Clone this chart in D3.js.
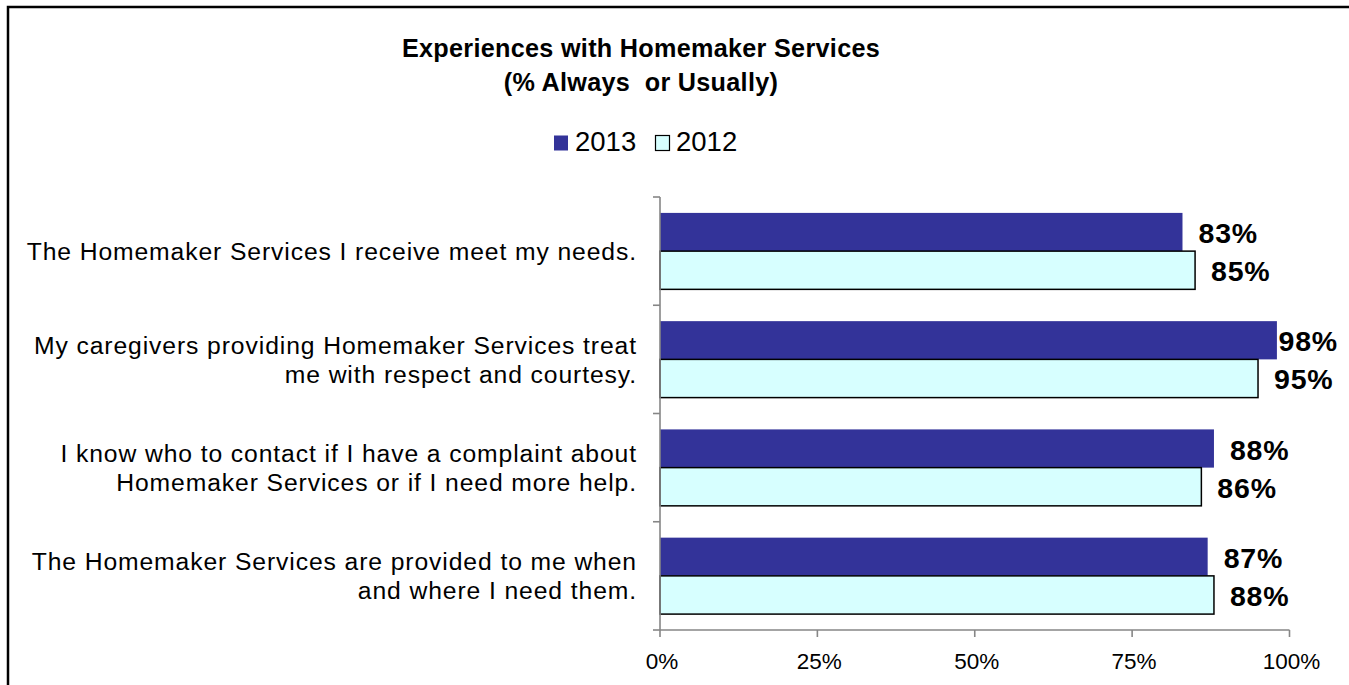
<!DOCTYPE html>
<html>
<head>
<meta charset="utf-8">
<script src="https://cdn.jsdelivr.net/npm/d3@7"></script>
<style>
  html, body { margin: 0; padding: 0; background: #fff; }
  svg { display: block; font-family: "Liberation Sans", Arial, sans-serif; }
</style>
</head>
<body>
<svg id="chart" width="1349" height="685"></svg>
<script>
// Survey statements (each line of a wrapped label is its own string)
const categories = [
  ["The Homemaker Services I receive meet my needs."],
  ["My caregivers providing Homemaker Services treat", "me with respect and courtesy."],
  ["I know who to contact if I have a complaint about", "Homemaker Services or if I need more help."],
  ["The Homemaker Services are provided to me when", "and where I need them."]
];
const seriesNames = ["2013", "2012"];
const values2013 = [83, 98, 88, 87];
const values2012 = [85, 95, 86, 88];
const tickValues = [0, 25, 50, 75, 100];
const titleLines = ["Experiences with Homemaker Services", "(% Always  or Usually)"];

const colors = { "2013": "#333399", "2012": "#d7ffff" };

const svg = d3.select("#chart");
const W = 1349, H = 685;

// outer frame
svg.append("rect")
  .attr("x", 8).attr("y", 7)
  .attr("width", W + 20).attr("height", H + 20)
  .attr("fill", "#fff").attr("stroke", "#000").attr("stroke-width", 2.5);

// plot geometry
const plot = { left: 660, right: 1289.5, top: 197, bottom: 630 };

const x = d3.scaleLinear().domain([0, 100]).range([plot.left, plot.right]);
const y = d3.scaleBand().domain(d3.range(categories.length)).range([plot.top, plot.bottom]).padding(0);
const ySeries = d3.scaleBand().domain(seriesNames).range([0, y.bandwidth()])
  .paddingInner(0).paddingOuter(0.416);

const rows = categories.map((c, i) => ({
  i, lines: c,
  vals: [{ s: "2013", v: values2013[i] }, { s: "2012", v: values2012[i] }]
}));

// title
const title = svg.append("text")
  .attr("text-anchor", "middle")
  .attr("font-weight", "bold").attr("font-size", 25.2)
  .attr("letter-spacing", 0.3)
  .style("white-space", "pre");
titleLines.forEach((t, k) => {
  title.append("tspan").attr("x", 641).attr("y", 57 + k * 34).text(t);
});

// legend
const legendItems = [
  { s: "2013", sx: 554, tx: 575 },
  { s: "2012", sx: 655.5, tx: 676 }
];
const lg = svg.append("g");
legendItems.forEach(d => {
  lg.append("rect")
    .attr("x", d.sx).attr("y", 135.5).attr("width", 14).attr("height", 15)
    .attr("fill", colors[d.s])
    .attr("stroke", d.s === "2012" ? "#000" : "none").attr("stroke-width", 1.2);
  lg.append("text").attr("x", d.tx).attr("y", 151)
    .attr("font-size", 27.5).attr("fill", "#000").text(d.s);
});

// bars
const groups = svg.append("g").selectAll("g").data(rows).join("g")
  .attr("transform", d => `translate(0,${y(d.i)})`);

groups.selectAll("rect").data(d => d.vals).join("rect")
  .attr("x", x(0))
  .attr("y", d => ySeries(d.s))
  .attr("width", d => x(d.v) - x(0))
  .attr("height", ySeries.bandwidth())
  .attr("fill", d => colors[d.s])
  .attr("stroke", d => d.s === "2012" ? "#000" : "none")
  .attr("stroke-width", 1.5);

// value labels, kept inside the frame
const maxRight = 1338;
groups.selectAll("text.val").data(d => d.vals).join("text")
  .attr("class", "val")
  .attr("font-weight", "bold").attr("font-size", 28.5).attr("letter-spacing", 0.8)
  .attr("y", d => ySeries(d.s) + ySeries.bandwidth() / 2 + 11)
  .text(d => d.v + "%")
  .each(function(d) {
    const w = this.getComputedTextLength();
    let px = x(d.v) + 16;
    if (px + w > maxRight) px = maxRight - w;
    d3.select(this).attr("x", px);
  });

// category labels
const lineGap = 29;
svg.append("g").selectAll("text").data(rows).join("text")
  .attr("text-anchor", "end")
  .attr("font-size", 24.7).attr("letter-spacing", 0.9)
  .attr("fill", "#000")
  .each(function(d) {
    const cy = y(d.i) + y.bandwidth() / 2;
    const first = cy + 8.8 - (d.lines.length - 1) * lineGap / 2;
    d3.select(this).selectAll("tspan").data(d.lines).join("tspan")
      .attr("x", 637).attr("y", (t, k) => first + k * lineGap)
      .text(t => t);
  });

// axes
const axisColor = "#868686";
const yBounds = d3.range(categories.length + 1).map(k => plot.top + k * y.step());
const ax = svg.append("g").attr("stroke", axisColor).attr("stroke-width", 1.6).attr("fill", "none");
ax.append("line").attr("x1", plot.left).attr("x2", plot.left).attr("y1", plot.top).attr("y2", plot.bottom);
ax.selectAll("line.yt").data(yBounds).join("line").attr("class", "yt")
  .attr("x1", plot.left - 7).attr("x2", plot.left).attr("y1", d => d).attr("y2", d => d);
ax.append("line").attr("x1", plot.left).attr("x2", plot.right).attr("y1", plot.bottom).attr("y2", plot.bottom);
ax.selectAll("line.xt").data(tickValues).join("line").attr("class", "xt")
  .attr("x1", d => x(d)).attr("x2", d => x(d)).attr("y1", plot.bottom).attr("y2", plot.bottom + 7);

svg.append("g").selectAll("text").data(tickValues).join("text")
  .attr("x", d => x(d) + 2).attr("y", 669)
  .attr("text-anchor", "middle").attr("font-size", 22.5).attr("fill", "#000")
  .text(d => d + "%");
</script>
</body>
</html>
